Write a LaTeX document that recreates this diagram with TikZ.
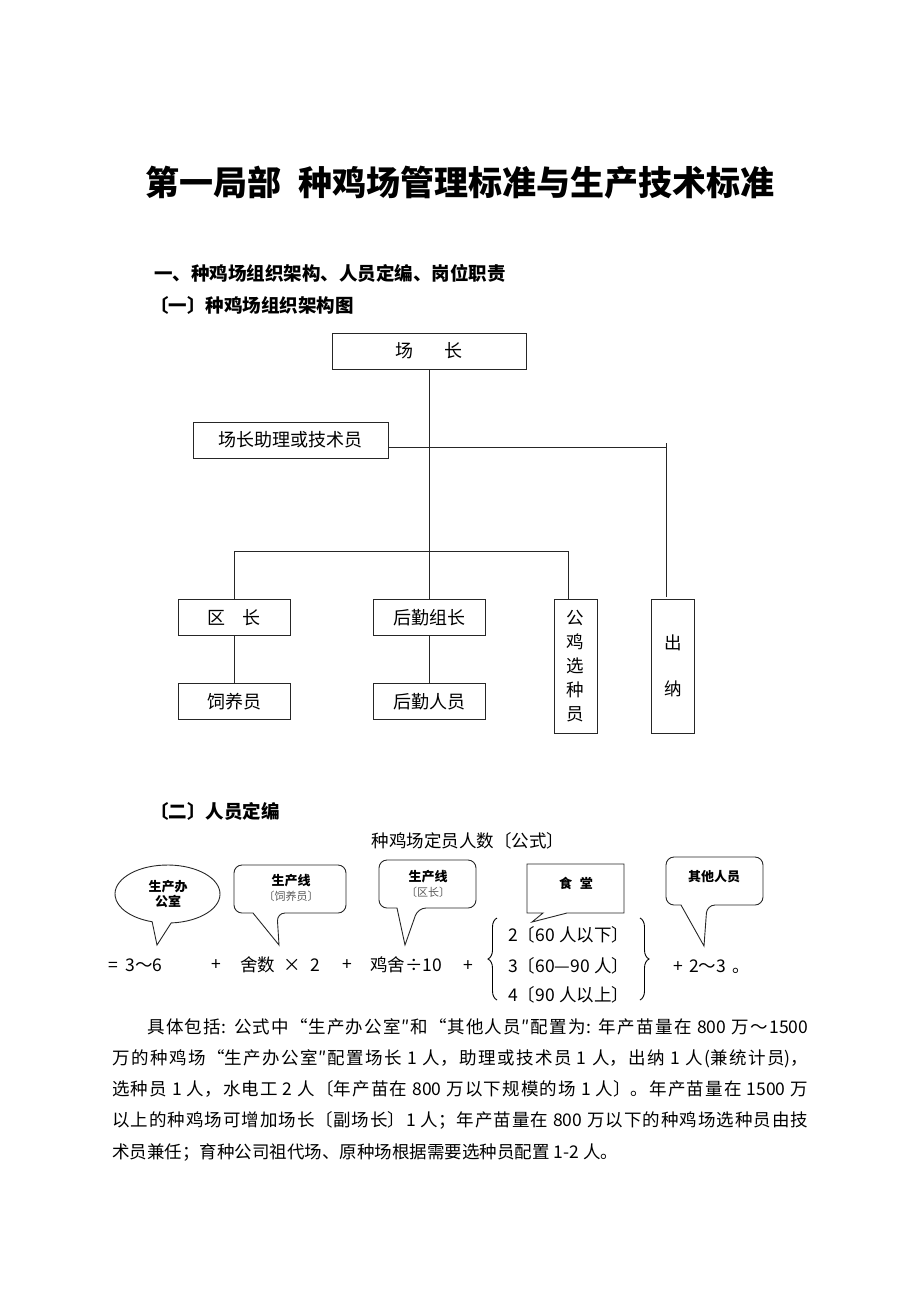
\documentclass[tikz,border=0pt]{standalone}
\usepackage{fontspec}
\setmainfont{Noto Sans CJK SC}
\usetikzlibrary{calc,decorations.pathreplacing}
\XeTeXlinebreaklocale "zh"
\XeTeXlinebreakskip=0pt plus 2pt

\tikzset{
  unitbox/.style={draw=black!85, line width=0.9, minimum height=36, inner sep=0,
    font=\fontsize{18}{22}\selectfont},
  tallbox/.style={draw=black!85, line width=0.9, minimum width=43, minimum height=134,
    inner sep=0, align=center, font=\fontsize{17.5}{24}\selectfont},
  link/.style={draw=black!85, line width=0.9},
  bubble/.style={draw=black!85, line width=0.9},
  bubtext/.style={inner sep=0, align=center, font=\bfseries\fontsize{13}{15}\selectfont},
  formula/.style={inner sep=0, font=\fontsize{17.5}{21}\selectfont},
  heading/.style={inner sep=0, anchor=west, font=\bfseries\fontsize{18.5}{22}\selectfont},
}

\begin{document}
\begin{tikzpicture}[x=1pt,y=-1pt]
  \useasboundingbox (0,0) rectangle (920,1302);

  % titles
  \node[inner sep=0, font=\bfseries\fontsize{34}{40}\selectfont] (title) at (460,183)
    {第一局部\hspace{0.5em}种鸡场管理标准与生产技术标准};
  \node[heading] (sec1) at (154,273) {一、种鸡场组织架构、人员定编、岗位职责};
  \node[heading] (sec11) at (150,305) {〔一〕种鸡场组织架构图};

  % org chart
  \begin{scope}
    \node[unitbox, minimum width=194] (chang)    at (429,351)   {场\hspace{1.7em}长};
    \node[unitbox, minimum width=195] (zhuli)    at (290.5,440) {场长助理或技术员};
    \node[unitbox, minimum width=112] (quzhang)  at (234,617.5) {区\hspace{0.9em}长};
    \node[unitbox, minimum width=112] (houqin)   at (429,617.5) {后勤组长};
    \node[unitbox, minimum width=112] (siyang)   at (234,701.5) {饲养员};
    \node[unitbox, minimum width=112] (houqinry) at (429,701.5) {后勤人员};
    \node[tallbox] (gongji) at (575.5,666) {公\\鸡\\选\\种\\员};
    \node[tallbox] (chuna)  at (673,666)   {出\\[22pt]纳};
  \end{scope}

  \coordinate (cross) at (666,447);
  \coordinate (bus)   at (568,551);

  \begin{scope}[every path/.style={link}]
    \draw (chang.south) -- (houqin.north);
    \draw (zhuli.east |- cross) -- (cross);
    \draw (cross) ++(0,-4) -- ($(cross |- chuna.north)+(0,-2)$);
    \draw (quzhang.north) |- (bus) -- (bus |- gongji.north);
    \draw (quzhang) -- (siyang);
    \draw (houqin) -- (houqinry);
  \end{scope}

  % staffing formula
  \node[heading] (sec12) at (150,811) {〔二〕人员定编};
  \node[inner sep=0, font=\fontsize{17.5}{21}\selectfont] (formtitle) at (468,841)
    {种鸡场定员人数〔公式〕};

  \coordinate (b1) at (167.5,894);
  \draw[bubble] (b1) ++(86:52.5 and 29)
    arc[start angle=86, end angle=-253, x radius=52.5, y radius=29] -- (157,945) -- cycle;
  \draw[bubble] (253,913) [rounded corners=8] -| (234,865) -| (346,913) -- (277,913)
    [sharp corners] -- (279,945) -- cycle;
  \draw[bubble] (397,908) [rounded corners=8] -| (379,860) -| (476,908) -- (418,908)
    [sharp corners] -- (405,945) -- cycle;
  \draw[bubble] (543,913) -| (527,864) -| (624,913) -- (567,913) -- (532,922) -- cycle;
  \draw[bubble] (681,905) [rounded corners=8] -| (666,857) -| (763,905) -- (707,905)
    [sharp corners] -- (704,946) -- cycle;

  \node[bubtext] (office) at (168,894) {生产办\\公室};
  \node[bubtext] (line1) at (291,888)
    {生产线\\{\mdseries\color{black!65}\fontsize{11}{15}\selectfont〔饲养员〕}};
  \node[bubtext] (line2) at (428,884)
    {生产线\\{\mdseries\color{black!65}\fontsize{11}{15}\selectfont〔区长〕}};
  \node[bubtext] (canteen) at (576,883) {食\hspace{0.6em}堂};
  \node[bubtext] (others) at (714,877) {其他人员};

  \begin{scope}[every node/.style={formula}]
    \node[anchor=west] (f1) at (108,965) {=\hspace{0.45em}3～6};
    \node (p1) at (216,965) {+};
    \node[anchor=west] (f2) at (240,965) {舍数\hspace{0.5em}×\hspace{0.5em}2};
    \node (p2) at (347,965) {+};
    \node[anchor=west] (f3) at (370,965) {鸡舍÷10};
    \node (p3) at (468,966) {+};
    \node[anchor=west] (c1) at (508,935) {2〔60\hspace{0.25em}人以下〕};
    \node[anchor=west] (c2) at (508,966) {3〔60—90\hspace{0.25em}人〕};
    \node[anchor=west] (c3) at (508,995) {4〔90\hspace{0.25em}人以上〕};
    \node[anchor=west] (f4) at (673,967) {+\hspace{0.35em}2～3\hspace{0.4em}。};
  \end{scope}
  \draw[line width=0.9, decorate, decoration={brace, amplitude=9}] (497,1000) -- (497,918);
  \draw[line width=0.9, decorate, decoration={brace, amplitude=9}] (640,918) -- (640,1000);

  % description
  \node[inner sep=0, anchor=north west, text width=696, align=justify,
        font=\fontsize{17.5}{31.3}\selectfont] (desc) at (112,1018)
    {\hspace*{2em}具体包括: 公式中“生产办公室″和“其他人员″配置为: 年产苗量在 800 万～1500\linebreak
     万的种鸡场“生产办公室″配置场长 1 人，助理或技术员 1 人，出纳 1 人(兼统计员)，\linebreak
     选种员 1 人，水电工 2 人〔年产苗在 800 万以下规模的场 1 人〕。年产苗量在 1500 万\linebreak
     以上的种鸡场可增加场长〔副场长〕1 人；年产苗量在 800 万以下的种鸡场选种员由技\linebreak
     术员兼任；育种公司祖代场、原种场根据需要选种员配置 1-2 人。};
\end{tikzpicture}
\end{document}
